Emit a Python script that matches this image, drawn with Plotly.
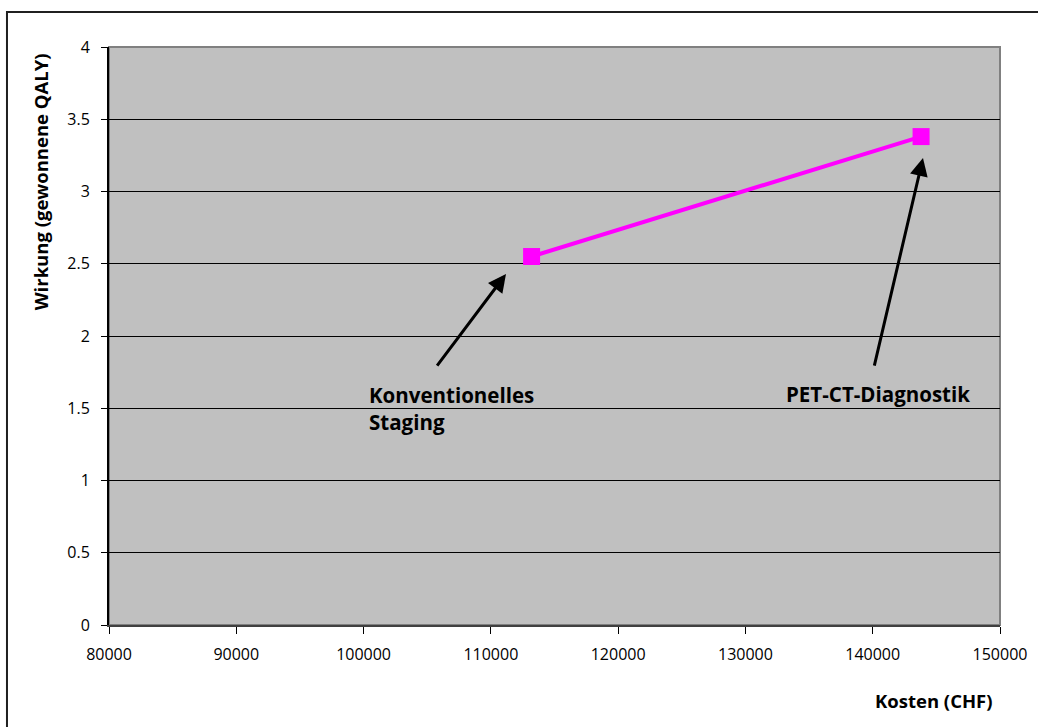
import plotly.graph_objects as go

# Data
strategies = ["Konventionelles Staging", "PET-CT-Diagnostik"]
kosten = [113200, 143800]
wirkung = [2.55, 3.38]

x_ticks = [80000, 90000, 100000, 110000, 120000, 130000, 140000, 150000]
y_ticks = [0, 0.5, 1, 1.5, 2, 2.5, 3, 3.5, 4]
y_tick_text = ["0", "0.5", "1", "1.5", "2", "2.5", "3", "3.5", "4"]

# arrow annotations (tail -> head) in data coordinates
arrow_tail_x = [105690, 140100]
arrow_tail_y = [1.785, 1.785]
arrow_head_x = [111190, 143950]
arrow_head_y = [2.429, 3.232]

FONT = "Open Sans"

fig = go.Figure()
fig.add_trace(go.Scatter(
    x=kosten, y=wirkung, mode="lines+markers",
    line=dict(color="#FF00FF", width=4),
    marker=dict(symbol="square", size=17, color="#FF00FF"),
    showlegend=False, hoverinfo="x+y"))

annotations = []
for tx, ty, hx, hy in zip(arrow_tail_x, arrow_tail_y, arrow_head_x, arrow_head_y):
    annotations.append(dict(
        x=hx, y=hy, ax=tx, ay=ty, xref="x", yref="y", axref="x", ayref="y",
        text="", showarrow=True, arrowhead=2, arrowsize=1.2, arrowwidth=3,
        arrowcolor="black", standoff=0, startstandoff=0))

annotations.append(dict(
    x=100250, y=1.50, xref="x", yref="y", text="<b>Konventionelles<br>Staging</b>",
    showarrow=False, xanchor="left", yanchor="middle", align="left",
    font=dict(family=FONT, size=20.5, color="black")))
annotations.append(dict(
    x=140410, y=1.60, xref="x", yref="y", text="<b>PET-CT-Diagnostik</b>",
    showarrow=False, xanchor="center", yanchor="middle",
    font=dict(family=FONT, size=20.5, color="black")))

annotations.append(dict(
    x=0.994, y=-0.13, xref="paper", yref="paper", text="<b>Kosten (CHF)</b>",
    showarrow=False, xanchor="right", yanchor="middle",
    font=dict(family=FONT, size=18.5, color="black")))
annotations.append(dict(
    x=-0.0774, y=0.766, xref="paper", yref="paper",
    text="<b>Wirkung (gewonnene QALY)</b>", textangle=-90,
    showarrow=False, xanchor="center", yanchor="middle",
    font=dict(family=FONT, size=18.5, color="black")))

shapes = [
    # outer chart border
    dict(type="rect", xref="paper", yref="paper", x0=-0.1145, y0=-0.2, x1=1.06, y1=1.0606,
         line=dict(color="#202020", width=2), fillcolor="rgba(0,0,0,0)", layer="above"),
    # plot area border
    dict(type="rect", xref="paper", yref="paper", x0=0, y0=0, x1=1, y1=1,
         line=dict(color="#808080", width=2), fillcolor="rgba(0,0,0,0)", layer="below"),
]

fig.update_layout(
    width=1038, height=727,
    margin=dict(l=109, r=38, t=47, b=102),
    paper_bgcolor="white", plot_bgcolor="#C0C0C0",
    font=dict(family=FONT, size=16, color="black"),
    annotations=annotations, shapes=shapes,
    xaxis=dict(range=[80000, 150000], tickvals=x_ticks,
               ticktext=[str(v) for v in x_ticks],
               showgrid=False, zeroline=False, showline=True, linecolor="#404040",
               linewidth=2, ticks="outside", ticklen=7, tickcolor="black",
               ticklabelstandoff=7,
               tickfont=dict(family=FONT, size=16, color="black")),
    yaxis=dict(range=[0, 4], tickvals=y_ticks, ticktext=y_tick_text,
               showgrid=True, gridcolor="black", gridwidth=1, zeroline=False,
               showline=True, linecolor="black", linewidth=2,
               ticks="outside", ticklen=6, tickcolor="black",
               ticklabelstandoff=8,
               tickfont=dict(family=FONT, size=16, color="black")),
)

fig.write_html("out.html", config={"displayModeBar": False},
               post_script="document.body.style.margin='0';")
